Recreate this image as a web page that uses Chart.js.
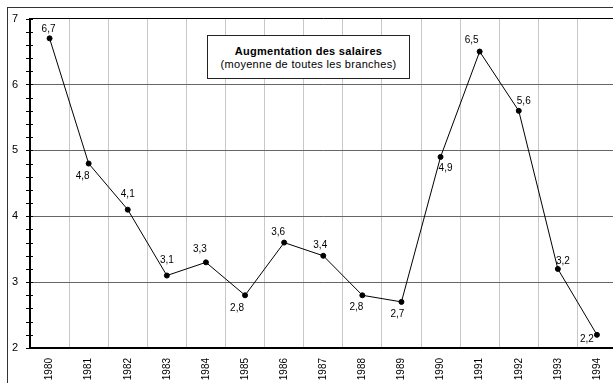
<!DOCTYPE html>
<html>
<head>
<meta charset="utf-8">
<script src="https://cdn.jsdelivr.net/npm/chart.js@4"></script>
<style>
  html, body { margin:0; padding:0; background:#fff; overflow:hidden; }
  #wrap { position:relative; width:613px; height:383px; overflow:hidden; }
  #frame { position:absolute; left:7px; top:7px; width:700px; height:500px; border:1px solid #333; border-right:none; border-bottom:none; }
  #chart { position:absolute; left:0; top:0; }
  #titlebox { position:absolute; left:207px; top:35px; width:203px; height:44px; background:#fff; border:1px solid #222;
    font-family:"Liberation Sans", Arial, sans-serif; font-size:11px; color:#000; text-align:center; line-height:13px; box-sizing:border-box; padding-top:9px; letter-spacing:0.3px; }
  #titlebox b { display:block; }
</style>
</head>
<body>
<div id="wrap">
  <div id="frame"></div>
  <canvas id="chart" width="620" height="383"></canvas>
  <div id="titlebox"><b>Augmentation des salaires</b>(moyenne de toutes les branches)</div>
</div>
<script>
const years = ["1980","1981","1982","1983","1984","1985","1986","1987","1988","1989","1990","1991","1992","1993","1994"];
const salaries = [6.7, 4.8, 4.1, 3.1, 3.3, 2.8, 3.6, 3.4, 2.8, 2.7, 4.9, 6.5, 5.6, 3.2, 2.2];
const yTicks = [2, 3, 4, 5, 6, 7];

// label offsets from each point (style only)
const labelOffsets = [[-1,-9],[-6,13],[0,-15],[0,-15],[-6,-13],[-8,13],[-6,-10],[-3,-11],[-6,12],[-4,12],[5,11],[-8,-11],[5,-10],[5,-8],[-10,4]];

const font = '"Liberation Sans", Arial, sans-serif';

const extras = {
  id:"extras",
  afterDraw(chart) {
    const {ctx, scales:{x, y}} = chart;
    ctx.save();
    // minor ticks across the value axis
    ctx.strokeStyle = "#000"; ctx.lineWidth = 1;
    for (let i = 0; i <= 25; i++) {
      const py = Math.round(y.getPixelForValue(2 + i * 0.2)) + 0.5;
      ctx.beginPath(); ctx.moveTo(x.left - 4, py); ctx.lineTo(x.left + 3, py); ctx.stroke();
    }
    // point labels
    const meta = chart.getDatasetMeta(0);
    ctx.fillStyle = "#000"; ctx.font = "10px " + font;
    ctx.textAlign = "center"; ctx.textBaseline = "middle";
    meta.data.forEach((pt, i) => {
      const [dx, dy] = labelOffsets[i];
      ctx.fillText(String(salaries[i]).replace(".", ","), pt.x + dx, pt.y + dy);
    });
    ctx.restore();
  }
};

new Chart(document.getElementById("chart"), {
  type:"line",
  data:{ labels:years, datasets:[{ data:salaries, borderColor:"#000", borderWidth:1, tension:0,
    pointRadius:2.5, pointBackgroundColor:"#000", pointBorderColor:"#000", pointHoverRadius:2.5 }] },
  options:{ responsive:false, animation:false, events:[],
    layout:{ padding:{ top:17, left:0, right:0, bottom:0 } },
    plugins:{ legend:{display:false}, tooltip:{enabled:false} },
    scales:{
      x:{ offset:true, grid:{ offset:true, color:"#c8c8c8", lineWidth:1, drawTicks:false },
          border:{ color:"#000", width:2 },
          ticks:{ color:"#000", font:{family:font, size:10}, minRotation:90, maxRotation:90, padding:10, autoSkip:false },
          afterFit:s => { s.height = 35; } },
      y:{ min:2, max:7, afterBuildTicks:s => { s.ticks = yTicks.map(v => ({value:v})); },
          grid:{ color:c => c.tick.value === 7 ? "#000" : "#666", lineWidth:1, drawTicks:false },
          border:{ color:"#000", width:2 },
          ticks:{ color:"#000", font:{family:font, size:11}, padding:12 },
          afterFit:s => { s.width = 30; } }
    } },
  plugins:[extras]
});
</script>
</body>
</html>
